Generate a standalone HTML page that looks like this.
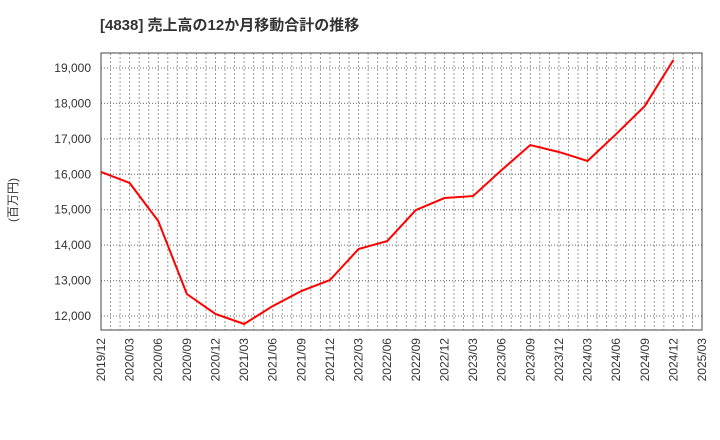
<!DOCTYPE html>
<html><head><meta charset="utf-8"><style>body{margin:0;background:#fff}svg{display:block}</style></head>
<body>
<svg id="c" width="720" height="440" xmlns="http://www.w3.org/2000/svg" font-family="'Liberation Sans','Noto Sans CJK JP',sans-serif">
<text x="100" y="30" font-size="15" font-weight="bold" fill="#333">[4838]  売上高の12か月移動合計の推移</text>
<text transform="translate(17,200) rotate(-90)" font-size="12" fill="#333" text-anchor="middle">(百万円)</text>
<g id="grid"></g><g id="ylab"></g><g id="xlab"></g>
<rect x="101" y="53" width="601" height="277" fill="none" stroke="#444" stroke-width="1"/>
<polyline id="line" fill="none" stroke="#f00" stroke-width="2"/>
</svg>
<script>
const categories=["2019/12","2020/03","2020/06","2020/09","2020/12","2021/03","2021/06","2021/09","2021/12","2022/03","2022/06","2022/09","2022/12","2023/03","2023/06","2023/09","2023/12","2024/03","2024/06","2024/09","2024/12"];
const xTickLabels=["2019/12","2020/03","2020/06","2020/09","2020/12","2021/03","2021/06","2021/09","2021/12","2022/03","2022/06","2022/09","2022/12","2023/03","2023/06","2023/09","2023/12","2024/03","2024/06","2024/09","2024/12","2025/03"];
const values=[16065,15755,14680,12620,12057,11775,12280,12705,13015,13890,14115,14990,15330,15385,16120,16825,16630,16375,17135,17925,19225];
const yTicks=[12000,13000,14000,15000,16000,17000,18000,19000];
const NS="http://www.w3.org/2000/svg";
const L=101,R=702,T=53,B=330;
const step=(R-L)/(xTickLabels.length-1);
function xs(i){return L+i*step;}
function ys(v){return 316-(v-12000)*(248/7000);}
function mk(t,a,p){const e=document.createElementNS(NS,t);for(const k in a)e.setAttribute(k,a[k]);p.appendChild(e);return e;}
const grid=document.getElementById('grid'),yl=document.getElementById('ylab'),xl=document.getElementById('xlab');
for(let m=1;m<(xTickLabels.length-1)*3;m++){
 const x=L+m*step/3;
 const g=mk('line',{x1:x,x2:x,y1:T,y2:B,stroke:'#999','stroke-dasharray':'2,2','stroke-width':1},grid);
 
 
}
yTicks.forEach(v=>{
 const y=ys(v);
 const g=mk('line',{x1:L,x2:R,y1:y,y2:y,stroke:'#666','stroke-dasharray':'1,2','stroke-width':1},grid);
 
 
 const t=mk('text',{x:91,y:y+4,'font-size':12,fill:'#333','text-anchor':'end'},yl);
 t.textContent=v.toLocaleString('en-US');
 
 
});
xTickLabels.forEach((s,i)=>{
 const x=xs(i);
 const t=mk('text',{transform:`translate(${x+4},338) rotate(-90)`,'font-size':12,fill:'#333','text-anchor':'end'},xl);
 t.textContent=s;
 
 
});
document.getElementById('line').setAttribute('points',values.map((v,i)=>xs(i)+','+ys(v)).join(' '));
</script>
</body></html>
